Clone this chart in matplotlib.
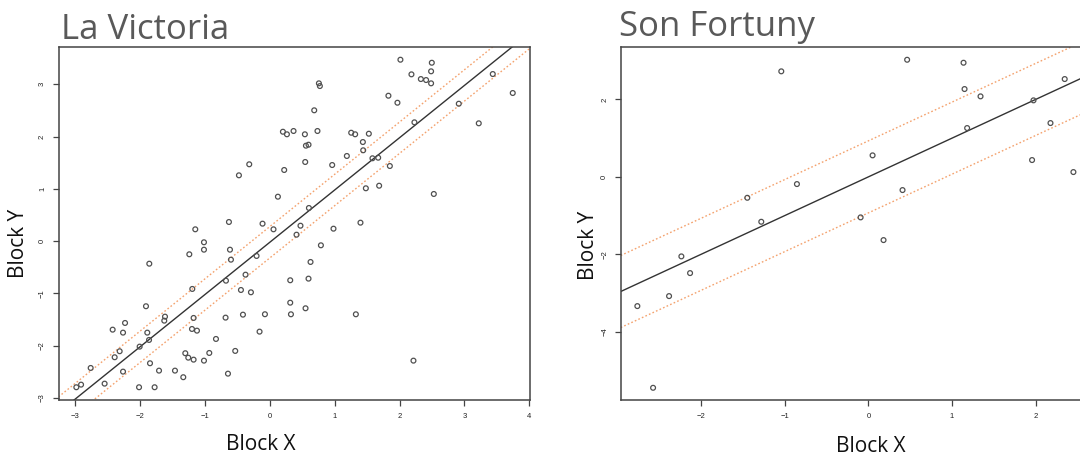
import matplotlib
matplotlib.use("Agg")
import matplotlib.pyplot as plt
import numpy as np

# ---------------- data ----------------
lv_x = [0.200, 0.262, 0.364, -0.319, -0.478, 0.220, 0.123, -0.632, -0.114, -1.151,
        0.055, 0.755, 0.770, 2.012, 2.496, 2.485, 2.182, 2.327, 2.408, 2.485,
        3.436, 3.744, 1.827, 1.966, 2.912, 0.683, 2.228, 3.220, 0.539, 0.733,
        1.253, 1.314, 1.525, 0.555, 0.595, 1.433, 1.438, 1.186, 0.544, 0.960,
        1.581, 1.669, 1.849, 1.479, 1.684, 2.527, 0.601, 0.471, 0.980, 1.396,
        0.410, 0.786, 0.626, 0.595, 0.313, 0.313, 0.324, 0.549, 1.325, 2.213,
        -1.017, -1.017, -1.243, -0.616, -0.601, -0.206, -1.860, -0.678, -0.376, -0.447,
        -0.293, -1.197, -0.077, -0.416, -0.684, -1.911, -2.234, -1.618, -1.629, -1.177,
        -1.891, -2.265, -2.425, -1.202, -1.125, -0.160, -1.864, -0.832, -2.009, -2.317,
        -2.394, -1.305, -1.259, -1.177, -0.935, -1.017, -0.535, -2.764, -1.849, -2.265,
        -1.710, -1.464, -0.647, -1.336, -2.549, -2.985, -2.912, -2.018, -1.778]
lv_y = [2.093, 2.044, 2.107, 1.470, 1.259, 1.361, 0.850, 0.366, 0.334, 0.226,
        0.226, 3.019, 2.967, 3.471, 3.413, 3.249, 3.191, 3.101, 3.082, 3.019,
        3.197, 2.834, 2.782, 2.648, 2.629, 2.503, 2.273, 2.254, 2.044, 2.107,
        2.074, 2.044, 2.055, 1.826, 1.845, 1.896, 1.738, 1.629, 1.514, 1.456,
        1.585, 1.596, 1.437, 1.011, 1.060, 0.902, 0.634, 0.295, 0.238, 0.353,
        0.123, -0.080, -0.399, -0.718, -0.749, -1.178, -1.400, -1.285, -1.400, -2.287,
        -0.022, -0.164, -0.252, -0.164, -0.355, -0.284, -0.432, -0.757, -0.642, -0.935,
        -0.979, -0.915, -1.399, -1.407, -1.464, -1.246, -1.566, -1.445, -1.522, -1.470,
        -1.751, -1.751, -1.694, -1.681, -1.713, -1.732, -1.891, -1.872, -2.019, -2.107,
        -2.222, -2.145, -2.230, -2.268, -2.140, -2.287, -2.101, -2.427, -2.337, -2.497,
        -2.478, -2.478, -2.536, -2.604, -2.727, -2.796, -2.746, -2.796, -2.796]

sf_x = [-1.041, -1.447, -0.854, -1.280, -2.235, -2.131, -2.382, -2.761, -2.573, 0.463,
        1.137, 1.149, 1.340, 2.346, 1.973, 1.180, 2.176, 0.050, 1.956, 2.450,
        0.408, -0.093, 0.181]
sf_y = [2.724, -0.540, -0.186, -1.159, -2.053, -2.484, -3.078, -3.336, -5.445, 3.023,
        2.946, 2.267, 2.078, 2.525, 1.975, 1.260, 1.389, 0.555, 0.434, 0.124,
        -0.341, -1.046, -1.632]

# fitted line (slope, intercept) and half-width of the dotted band
lv_line = (1.0, -0.02)
lv_band = 0.30
sf_line = (1.0, 0.0)
sf_band = 0.93

lv_xticks = [-3, -2, -1, 0, 1, 2, 3, 4]
lv_yticks = [-3, -2, -1, 0, 1, 2, 3]
sf_xticks = [-2, -1, 0, 1, 2]
sf_yticks = [-4, -2, 0, 2]

titles = ["La Victoria", "Son Fortuny"]

# ---------------- figure ----------------
W, H = 1080, 459
fig = plt.figure(figsize=(W / 100, H / 100), dpi=100)

def ax_at(x0, y0, x1, y1):
    return fig.add_axes([x0 / W, 1 - y1 / H, (x1 - x0) / W, (y1 - y0) / H])

ax1 = ax_at(58.5, 46.7, 530, 400)
ax2 = ax_at(620.7, 46.7, 1096, 400)

spine_c = "#444444"
pt_c = "#505050"
orange = "#F4A26E"

def draw(ax, xs, ys, line, band, xlim, ylim, xt, yt):
    ax.scatter(xs, ys, s=12, facecolors="none", edgecolors=pt_c, linewidths=0.9, zorder=3)
    xx = np.array(xlim)
    m, b = line
    ax.plot(xx, m * xx + b, color="#333333", lw=1.0, zorder=2)
    ax.plot(xx, m * xx + b + band, color=orange, lw=1.0, ls=(0, (1.2, 1.6)), zorder=2)
    ax.plot(xx, m * xx + b - band, color=orange, lw=1.0, ls=(0, (1.2, 1.6)), zorder=2)
    ax.set_xlim(xlim)
    ax.set_ylim(ylim)
    ax.set_xticks(xt)
    ax.set_yticks(yt)
    ax.tick_params(length=4, width=0.9, color=spine_c, labelsize=5.5,
                   labelcolor="#222222", pad=5)
    for lab in ax.get_xticklabels() + ax.get_yticklabels():
        lab.set_family("Liberation Sans")
    for lab in ax.get_yticklabels():
        lab.set_rotation(90)
        lab.set_va("center")
    for s in ax.spines.values():
        s.set_color(spine_c)
        s.set_linewidth(1.1)

draw(ax1, lv_x, lv_y, lv_line, lv_band, (-3.26, 4.01), (-3.04, 3.72), lv_xticks, lv_yticks)
draw(ax2, sf_x, sf_y, sf_line, sf_band, (-2.96, 2.72), (-5.76, 3.36), sf_xticks, sf_yticks)

tfont = "Open Sans"
fig.text(61 / W, 1 - 39 / H, titles[0], fontsize=25, color="#595959",
         family=tfont, va="baseline", ha="left")
fig.text(619 / W, 1 - 36 / H, titles[1], fontsize=25, color="#595959",
         family=tfont, va="baseline", ha="left")

lab_kw = dict(fontsize=15, color="#111111", family=tfont)
fig.text(261 / W, 1 - 444 / H, "Block X", ha="center", va="center", **lab_kw)
fig.text(871 / W, 1 - 447 / H, "Block X", ha="center", va="center", **lab_kw)
fig.text(19 / W, 1 - 243 / H, "Block Y", ha="center", va="center", rotation=90, **lab_kw)
fig.text(589 / W, 1 - 245 / H, "Block Y", ha="center", va="center", rotation=90, **lab_kw)

fig.savefig("out.png", dpi=100)
